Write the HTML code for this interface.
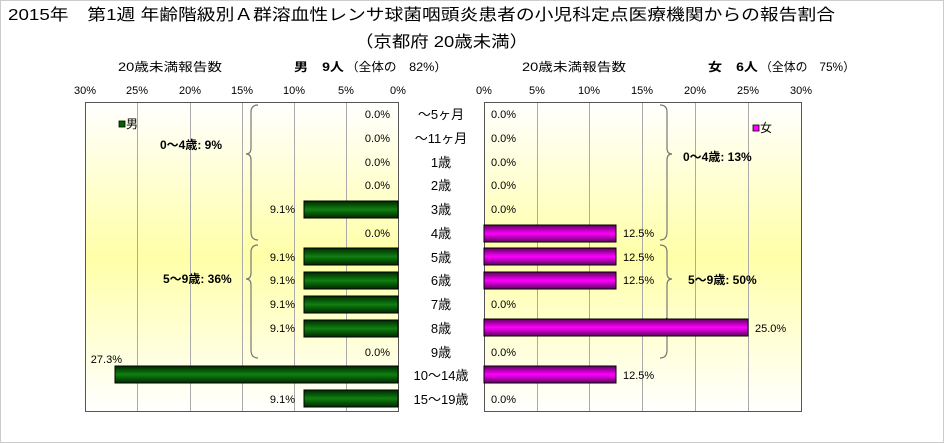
<!DOCTYPE html>
<html><head><meta charset="utf-8"><style>
body{margin:0;background:#fff;}
svg{display:block;font-family:"Liberation Sans","Noto Sans CJK JP",sans-serif;}
</style></head><body>
<svg width="944" height="443" viewBox="0 0 944 443" xmlns="http://www.w3.org/2000/svg">
<defs>
<linearGradient id="bg" x1="0" y1="0" x2="0" y2="1">
<stop offset="0" stop-color="#ffffff"/><stop offset="0.5" stop-color="#ffffa8"/><stop offset="1" stop-color="#ffffff"/>
</linearGradient>
<linearGradient id="gr" x1="0" y1="0" x2="0" y2="1">
<stop offset="0" stop-color="#002800"/><stop offset="0.5" stop-color="#108010"/><stop offset="1" stop-color="#002800"/>
</linearGradient>
<linearGradient id="mg" x1="0" y1="0" x2="0" y2="1">
<stop offset="0" stop-color="#600060"/><stop offset="0.5" stop-color="#ff00ff"/><stop offset="1" stop-color="#600060"/>
</linearGradient>
</defs>
<rect x="0" y="0" width="944" height="443" fill="#fff"/>
<rect x="0.5" y="0.5" width="943" height="442" fill="none" stroke="#ccc"/>
<text x="8" y="20" font-size="16" textLength="827" lengthAdjust="spacingAndGlyphs">2015年　第1週 年齢階級別Ａ群溶血性レンサ球菌咽頭炎患者の小児科定点医療機関からの報告割合</text>
<text x="355" y="47" font-size="16" textLength="173" lengthAdjust="spacingAndGlyphs">（京都府 20歳未満）</text>
<g font-size="12">
<text x="118" y="71" textLength="104" lengthAdjust="spacingAndGlyphs">20歳未満報告数</text>
<text x="294" y="71" font-weight="bold" textLength="50" lengthAdjust="spacingAndGlyphs">男　9人</text><text x="346" y="71" textLength="101" lengthAdjust="spacingAndGlyphs">（全体の　82%）</text>
<text x="522" y="71" textLength="104" lengthAdjust="spacingAndGlyphs">20歳未満報告数</text>
<text x="708" y="71" font-weight="bold" textLength="50" lengthAdjust="spacingAndGlyphs">女　6人</text><text x="760" y="71" textLength="95" lengthAdjust="spacingAndGlyphs">（全体の　75%）</text>
</g>
<g font-size="11" text-anchor="middle">
<text x="85" y="94">30%</text><text x="137" y="94">25%</text><text x="190" y="94">20%</text><text x="242" y="94">15%</text><text x="294" y="94">10%</text><text x="346" y="94">5%</text><text x="398" y="94">0%</text>
<text x="484" y="94">0%</text><text x="537" y="94">5%</text><text x="589" y="94">10%</text><text x="642" y="94">15%</text><text x="695" y="94">20%</text><text x="748" y="94">25%</text><text x="801" y="94">30%</text>
</g>
<rect x="85" y="102" width="313" height="309" fill="url(#bg)"/>
<rect x="484" y="102" width="317" height="309" fill="url(#bg)"/>
<g stroke="#aaa" stroke-width="1">
<line x1="137.5" y1="102" x2="137.5" y2="411"/><line x1="190.5" y1="102" x2="190.5" y2="411"/><line x1="242.5" y1="102" x2="242.5" y2="411"/><line x1="294.5" y1="102" x2="294.5" y2="411"/><line x1="346.5" y1="102" x2="346.5" y2="411"/>
<line x1="537.5" y1="102" x2="537.5" y2="411"/><line x1="589.5" y1="102" x2="589.5" y2="411"/><line x1="642.5" y1="102" x2="642.5" y2="411"/><line x1="695.5" y1="102" x2="695.5" y2="411"/><line x1="748.5" y1="102" x2="748.5" y2="411"/>
</g>
<rect x="85.5" y="102.5" width="313" height="309" fill="none" stroke="#555"/>
<rect x="484.5" y="102.5" width="317" height="309" fill="none" stroke="#555"/>
<g fill="none" stroke="#777" stroke-width="1.2">
<path d="M258 105 Q251 105 251 112 L251 148 Q251 154 246 154 Q251 154 251 160 L251 232 Q251 240 258 240"/>
<path d="M258 245 Q251 245 251 252 L251 273 Q251 279 246 279 Q251 279 251 285 L251 350 Q251 358 258 358"/>
<path d="M660 105 Q667 105 667 112 L667 148 Q667 154 672 154 Q667 154 667 160 L667 232 Q667 240 660 240"/>
<path d="M660 245 Q667 245 667 252 L667 273 Q667 279 672 279 Q667 279 667 285 L667 350 Q667 358 660 358"/>
</g>
<line x1="666.5" y1="318" x2="666.5" y2="335" stroke="#000"/>
<g font-size="12" font-weight="bold">
<text x="160" y="149">0～4歳: 9%</text>
<text x="163" y="283">5～9歳: 36%</text>
<text x="683" y="161">0～4歳: 13%</text>
<text x="688" y="284">5～9歳: 50%</text>
</g>
<rect x="119" y="121" width="6" height="6" fill="#006400" stroke="#000" stroke-width="0.8"/><text x="126" y="128" font-size="12">男</text>
<rect x="753" y="125" width="6" height="6" fill="#ff00ff" stroke="#000" stroke-width="0.8"/><text x="760" y="132" font-size="12">女</text>
<g stroke="#000" stroke-width="1">
<rect x="304" y="201" width="94" height="17" fill="url(#gr)"/>
<rect x="304" y="248" width="94" height="17" fill="url(#gr)"/>
<rect x="304" y="272" width="94" height="17" fill="url(#gr)"/>
<rect x="304" y="296" width="94" height="17" fill="url(#gr)"/>
<rect x="304" y="320" width="94" height="17" fill="url(#gr)"/>
<rect x="115" y="366" width="283" height="17" fill="url(#gr)"/>
<rect x="304" y="390" width="94" height="17" fill="url(#gr)"/>
<rect x="484" y="225" width="132" height="17" fill="url(#mg)"/>
<rect x="484" y="248" width="132" height="17" fill="url(#mg)"/>
<rect x="484" y="272" width="132" height="17" fill="url(#mg)"/>
<rect x="484" y="319" width="264" height="17" fill="url(#mg)"/>
<rect x="484" y="366" width="132" height="17" fill="url(#mg)"/>
</g>
<g font-size="11" text-anchor="end">
<text x="390" y="118">0.0%</text><text x="390" y="142">0.0%</text><text x="390" y="166">0.0%</text><text x="390" y="189">0.0%</text>
<text x="295" y="213">9.1%</text><text x="390" y="237">0.0%</text>
<text x="295" y="261">9.1%</text><text x="295" y="284">9.1%</text><text x="295" y="308">9.1%</text><text x="295" y="332">9.1%</text>
<text x="390" y="356">0.0%</text><text x="122" y="363">27.3%</text><text x="295" y="403">9.1%</text>
</g>
<g font-size="11">
<text x="491" y="118">0.0%</text><text x="491" y="142">0.0%</text><text x="491" y="166">0.0%</text><text x="491" y="189">0.0%</text><text x="491" y="213">0.0%</text>
<text x="623" y="237">12.5%</text><text x="623" y="261">12.5%</text><text x="623" y="284">12.5%</text>
<text x="491" y="308">0.0%</text><text x="755" y="332">25.0%</text><text x="491" y="356">0.0%</text>
<text x="623" y="379">12.5%</text><text x="491" y="403">0.0%</text>
</g>
<g font-size="13" text-anchor="middle">
<text x="441" y="119">～5ヶ月</text><text x="441" y="143">～11ヶ月</text><text x="441" y="167">1歳</text><text x="441" y="190">2歳</text><text x="441" y="214">3歳</text><text x="441" y="238">4歳</text><text x="441" y="262">5歳</text><text x="441" y="285">6歳</text><text x="441" y="309">7歳</text><text x="441" y="333">8歳</text><text x="441" y="357">9歳</text><text x="441" y="380">10～14歳</text><text x="441" y="404">15～19歳</text>
</g>
</svg>
</body></html>
